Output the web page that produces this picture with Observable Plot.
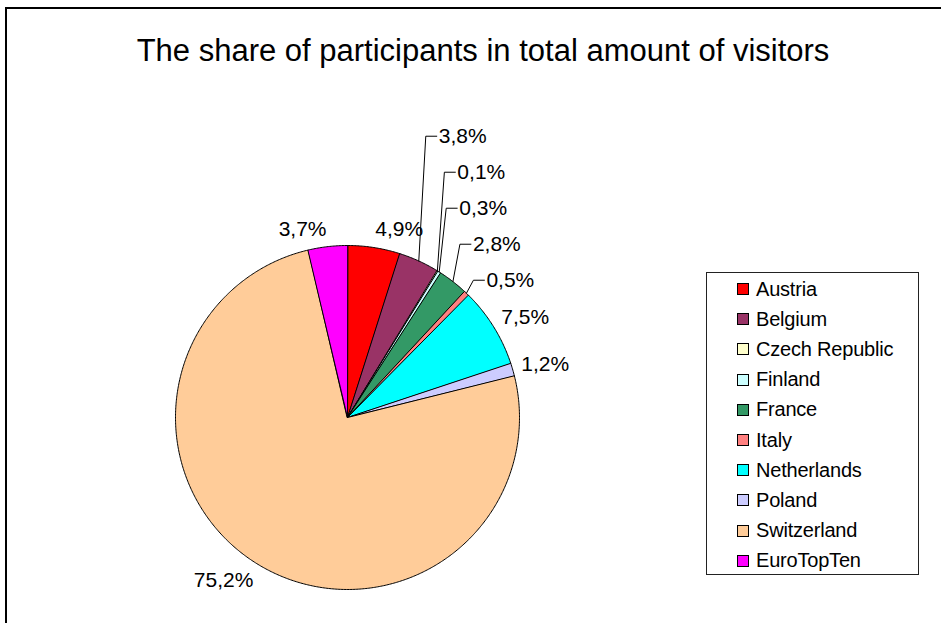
<!DOCTYPE html>
<html>
<head>
<meta charset="utf-8">
<script src="https://cdn.jsdelivr.net/npm/d3@7"></script>
<script src="https://cdn.jsdelivr.net/npm/@observablehq/plot@0.6"></script>
<style>
  html, body { margin: 0; padding: 0; background: #fff; overflow: hidden; }
  body { width: 941px; height: 623px; position: relative; font-family: Arial, "Liberation Sans", sans-serif; }
  #frame { position: absolute; left: 5px; top: 7px; width: 980px; height: 660px;
           border-left: 2px solid #000; border-top: 2px solid #000; }
  #title { position: absolute; left: 0; width: 966px; top: 35px; text-align: center;
           font-size: 31px; line-height: 31px; color: #000; white-space: nowrap; }
  #chart { position: absolute; left: 0; top: 0; }
  #legend { position: absolute; left: 706px; top: 272px; width: 211px; height: 301px;
            border: 1px solid #222; background: #fff; }
  .item { position: absolute; left: 0; height: 24px; display: flex; align-items: center;
          font-size: 20px; white-space: nowrap; color: #000; }
  .sw { width: 10px; height: 10px; border: 1px solid #000; margin-left: 30px; margin-right: 7px; }
</style>
</head>
<body>
<div id="frame"></div>
<div id="title">The share of participants in total amount of visitors</div>
<div id="chart"></div>
<div id="legend"></div>
<script>
// ---- data ----
const countries = ["Austria", "Belgium", "Czech Republic", "Finland", "France", "Italy", "Netherlands", "Poland", "Switzerland", "EuroTopTen"];
const shares = [4.9, 3.8, 0.1, 0.3, 2.8, 0.5, 7.5, 1.2, 75.2, 3.7];
const labels = ["4,9%", "3,8%", "0,1%", "0,3%", "2,8%", "0,5%", "7,5%", "1,2%", "75,2%", "3,7%"];
const colors = ["#FF0000", "#993366", "#FFFFCC", "#CCFFFF", "#339966", "#FF8080", "#00FFFF", "#CCCCFF", "#FFCC99", "#FF00FF"];

// ---- layout ----
const W = 941, H = 623;
const cx = 347, cy = 417, R = 172;     // pie centre / radius in px
const px = v => v / R;                 // px -> unit
const fontFamily = "Arial, 'Liberation Sans', sans-serif";
const labelSize = 21;

const total = d3.sum(shares);
let acc = 0;
const slices = countries.map((name, i) => {
  const a0 = acc / total * 2 * Math.PI;
  acc += shares[i];
  const a1 = acc / total * 2 * Math.PI;
  return {name, value: shares[i], label: labels[i], color: colors[i], a0, a1, mid: (a0 + a1) / 2};
});

// polygon points for each slice (unit coords, y up, clockwise from 12 o'clock)
function slicePoints(s) {
  const n = Math.max(2, Math.ceil((s.a1 - s.a0) / (Math.PI / 360)));
  const pts = [{x: 0, y: 0}];
  for (let k = 0; k <= n; k++) {
    const a = s.a0 + (s.a1 - s.a0) * k / n;
    pts.push({x: Math.sin(a), y: Math.cos(a)});
  }
  return pts;
}

// crowded labels: neighbours' mid angles closer than 10 degrees
const thr = 10 * Math.PI / 180;
const N = slices.length;
slices.forEach((s, i) => {
  const prev = slices[(i - 1 + N) % N], next = slices[(i + 1) % N];
  const dp = Math.abs(((s.mid - prev.mid) + 2 * Math.PI) % (2 * Math.PI));
  const dn = Math.abs(((next.mid - s.mid) + 2 * Math.PI) % (2 * Math.PI));
  s.crowded = dp < thr || dn < thr;
});

// default label positions
const gap = px(9), halfH = px(9);
const plain = [], leaderLabels = [], leaders = [];
slices.forEach(s => {
  const sn = Math.sin(s.mid), cs = Math.cos(s.mid);
  s.lx = (1 + gap) * sn;
  s.ly = (1 + gap) * cs + halfH * cs;
  s.anchor = sn >= 0 ? "start" : "end";
  if (!s.crowded) plain.push(s);
});
const crowded = slices.filter(s => s.crowded);
const last = crowded[crowded.length - 1];
crowded.forEach((s, k) => {
  const ty = last.ly + (crowded.length - 1 - k) * px(36);
  const ex = Math.sin(s.mid), ey = Math.cos(s.mid);
  const elbowX = ex + px(7);
  leaders.push({id: s.name, x: ex, y: ey});
  leaders.push({id: s.name, x: elbowX, y: ty});
  leaders.push({id: s.name, x: elbowX + px(11), y: ty});
  leaderLabels.push({label: s.label, x: elbowX + px(13), y: ty});
});

const marks = slices.map(s =>
  Plot.line(slicePoints(s), {x: "x", y: "y", curve: "linear-closed", fill: s.color, stroke: "#000", strokeWidth: 1})
);
marks.push(
  Plot.line(leaders, {x: "x", y: "y", z: "id", stroke: "#000", strokeWidth: 1}),
  Plot.text(plain.filter(s => s.anchor === "start"), {x: "lx", y: "ly", text: "label", textAnchor: "start", fontSize: labelSize, fontFamily, fill: "#000"}),
  Plot.text(plain.filter(s => s.anchor === "end"), {x: "lx", y: "ly", text: "label", textAnchor: "end", fontSize: labelSize, fontFamily, fill: "#000"}),
  Plot.text(leaderLabels, {x: "x", y: "y", text: "label", textAnchor: "start", fontSize: labelSize, fontFamily, fill: "#000"})
);

const chart = Plot.plot({
  width: W, height: H,
  marginTop: 0, marginRight: 0, marginBottom: 0, marginLeft: 0,
  x: {domain: [-1, 1], range: [cx - R, cx + R], axis: null},
  y: {domain: [-1, 1], range: [cy + R, cy - R], axis: null},
  style: {background: "transparent", fontFamily, overflow: "visible"},
  marks
});
document.getElementById("chart").appendChild(chart);

// legend
const legend = document.getElementById("legend");
countries.forEach((c, i) => {
  const it = document.createElement("div");
  it.className = "item";
  it.style.top = (4 + i * 30.2) + "px";
  const sw = document.createElement("span");
  sw.className = "sw";
  sw.style.background = colors[i];
  const tx = document.createElement("span");
  tx.textContent = c;
  tx.style.letterSpacing = "-0.2px";
  it.appendChild(sw); it.appendChild(tx);
  legend.appendChild(it);
});
</script>
</body>
</html>
